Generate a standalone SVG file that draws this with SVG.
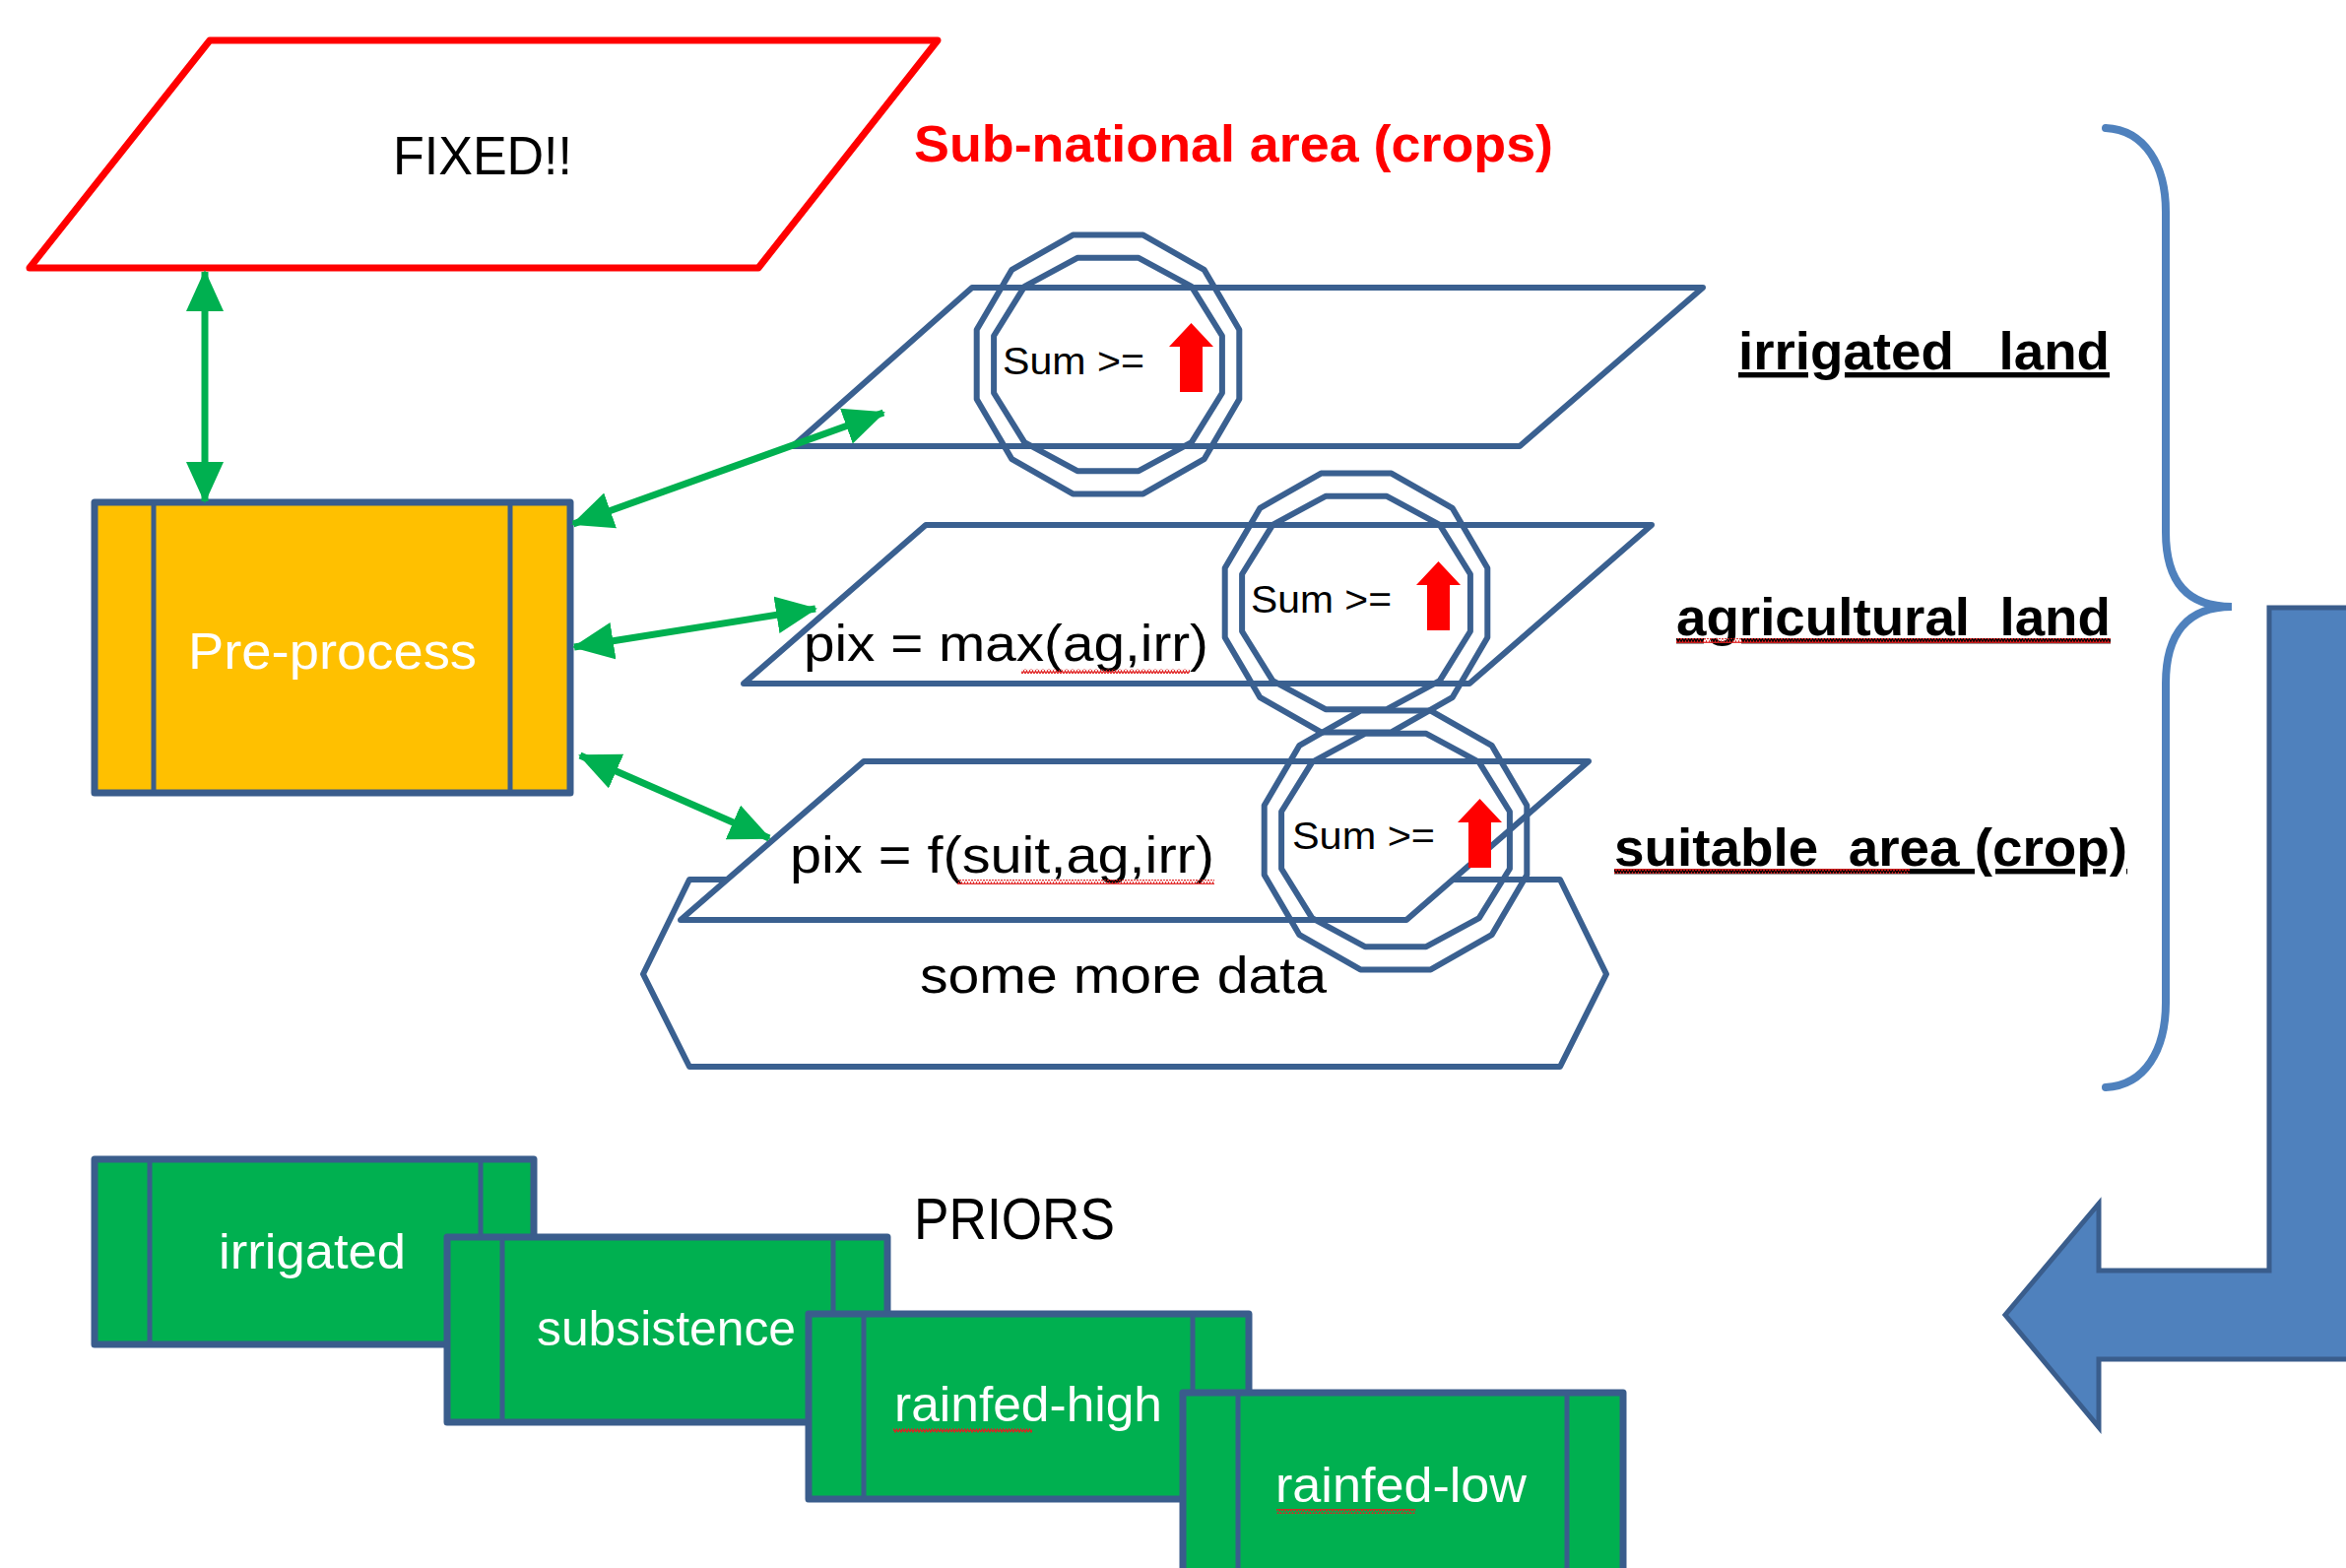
<svg xmlns="http://www.w3.org/2000/svg" width="2382" height="1592" viewBox="0 0 2382 1592">
<style>
.shape{fill:none;stroke:#3A6090;stroke-width:6;stroke-linejoin:round}
.white{fill:#FFFFFF}
.txt{font-family:'Liberation Sans',Arial,sans-serif;fill:#000}
.wt{font-family:'Liberation Sans',Arial,sans-serif;fill:#FFFFFF}
.lbl{font-family:'Liberation Sans',Arial,sans-serif;font-weight:bold;font-size:54px;fill:#000;text-decoration:underline}
.conn{stroke:#00B050;stroke-width:7;fill:none}
.prior{fill:#00B050;stroke:#3A5D8C;stroke-width:7;stroke-linejoin:round}
.inner{stroke:#3A5D8C;stroke-width:5}
.sum{font-family:'Liberation Sans',Arial,sans-serif;font-size:38px;fill:#000}
.redarrow{fill:#FF0000}
.wave{fill:url(#wavy)}
</style>
<defs>
<marker id="ah" markerUnits="userSpaceOnUse" markerWidth="44" markerHeight="40" refX="40" refY="19" orient="auto-start-reverse" viewBox="0 0 44 40">
<path d="M0,0 L42,19 L0,38 Z" fill="#00B050"/>
</marker>
<polygon id="dodecaOuter" points="35.7,-131.4 97.6,-96.2 133.3,-35.2 133.3,35.2 97.6,96.2 35.7,131.4 -35.7,131.4 -97.6,96.2 -133.3,35.2 -133.3,-35.2 -97.6,-96.2 -35.7,-131.4"/>
<polygon id="dodecaInner" points="31.1,-108.2 84.8,-79.2 115.9,-29 115.9,29 84.8,79.2 31.1,108.2 -31.1,108.2 -84.8,79.2 -115.9,29 -115.9,-29 -84.8,-79.2 -31.1,-108.2"/>
<path id="upArrow" d="M0,-35 L22.5,-11 L11.5,-11 L11.5,35 L-11.5,35 L-11.5,-11 L-22.5,-11 Z"/>
<pattern id="wavy" patternUnits="userSpaceOnUse" width="6" height="5">
<path d="M0,4 L1.5,1 L3,4 L4.5,1 L6,4" fill="none" stroke="#E02020" stroke-width="1.2"/>
</pattern>
</defs>

<g id="fixed">
<polygon points="213,41 952,41 770,272 30,272" fill="#FFFFFF" stroke="#FF0000" stroke-width="7" stroke-linejoin="round"/>
<text class="txt" x="399" y="177" font-size="56" textLength="182" lengthAdjust="spacingAndGlyphs">FIXED!!</text>
</g>

<g id="subnational-label">
<text x="928" y="164" font-family="'Liberation Sans',Arial,sans-serif" font-weight="bold" font-size="52" fill="#FF0000" textLength="649" lengthAdjust="spacingAndGlyphs">Sub-national area (crops)</text>
</g>

<g id="preprocess">
<rect x="96" y="510" width="483" height="295" fill="#FFC000" stroke="#3A5D8C" stroke-width="7" stroke-linejoin="round"/>
<line class="inner" x1="156" y1="510" x2="156" y2="805"/>
<line class="inner" x1="518" y1="510" x2="518" y2="805"/>
<text class="wt" x="191" y="679" font-size="52" textLength="293" lengthAdjust="spacingAndGlyphs">Pre-process</text>
</g>

<g id="some-more-data">
<polygon class="shape" points="700,893 1584,893 1631,989 1584,1083 700,1083 653,989"/>
<text class="txt" x="934" y="1008" font-size="52" textLength="413" lengthAdjust="spacingAndGlyphs">some more data</text>
</g>

<g id="layer-suitable">
<polygon class="shape white" points="877,773 1613,773 1428,934 691,934"/>
<text class="txt" x="802" y="886" font-size="52" textLength="431" lengthAdjust="spacingAndGlyphs">pix = f(suit,ag,irr)</text>
<rect class="wave" x="972" y="893" width="261" height="5"/>
</g>

<g id="layer-agricultural">
<polygon class="shape" points="940,533 1677,533 1492,694 755,694"/>
<text class="txt" x="816" y="671" font-size="52" textLength="411" lengthAdjust="spacingAndGlyphs">pix = max(ag,irr)</text>
<rect class="wave" x="1037" y="679" width="171" height="5"/>
</g>

<g id="layer-irrigated">
<polygon class="shape" points="987,292 1729,292 1543,453 805,453"/>
</g>

<g id="sum-irrigated">
<use href="#dodecaOuter" class="shape" transform="translate(1125,370)"/>
<use href="#dodecaInner" class="shape" transform="translate(1125,370)"/>
<text class="sum" x="1018" y="380" textLength="144" lengthAdjust="spacingAndGlyphs">Sum &gt;=</text>
<use href="#upArrow" class="redarrow" transform="translate(1209.5,363)"/>
</g>

<g id="sum-agricultural">
<use href="#dodecaOuter" class="shape" transform="translate(1377,612)"/>
<use href="#dodecaInner" class="shape" transform="translate(1377,612)"/>
<text class="sum" x="1270" y="622" textLength="143" lengthAdjust="spacingAndGlyphs">Sum &gt;=</text>
<use href="#upArrow" class="redarrow" transform="translate(1460.5,605)"/>
</g>

<g id="sum-suitable">
<use href="#dodecaOuter" class="shape" transform="translate(1417,853)"/>
<use href="#dodecaInner" class="shape" transform="translate(1417,853)"/>
<text class="sum" x="1312" y="862" textLength="145" lengthAdjust="spacingAndGlyphs">Sum &gt;=</text>
<use href="#upArrow" class="redarrow" transform="translate(1502.5,846)"/>
</g>

<g id="label-irrigated">
<text class="lbl" x="1765" y="375" textLength="377" lengthAdjust="spacingAndGlyphs">irrigated_ land</text>
</g>
<g id="label-agricultural">
<text class="lbl" x="1702" y="645" textLength="441" lengthAdjust="spacingAndGlyphs">agricultural_land</text>
<rect class="wave" x="1702" y="648" width="441" height="5"/>
</g>
<g id="label-suitable">
<text class="lbl" x="1639" y="879" textLength="521" lengthAdjust="spacingAndGlyphs">suitable_area (crop)</text>
<rect class="wave" x="1639" y="882" width="300" height="5"/>
</g>

<g id="brace">
<path d="M2138,130 C2178,132 2199,168 2199,215 L2199,540 C2199,592 2222,616 2266,616 C2222,616 2199,642 2199,694 L2199,1018 C2199,1066 2178,1102 2138,1104" fill="none" stroke="#4F81BD" stroke-width="8" stroke-linecap="round"/>
</g>

<g id="bent-arrow">
<polygon points="2304,617 2400,617 2400,1380 2131,1380 2131,1449 2036,1335 2131,1222 2131,1290 2304,1290" fill="#4F81BD" stroke="#3A5D8C" stroke-width="5" stroke-linejoin="miter"/>
</g>

<g id="priors-label">
<text class="txt" x="928" y="1258" font-size="60" textLength="204" lengthAdjust="spacingAndGlyphs">PRIORS</text>
</g>

<g id="prior-irrigated">
<rect class="prior" x="96" y="1177" width="446" height="188"/>
<line class="inner" x1="152" y1="1177" x2="152" y2="1365"/>
<line class="inner" x1="488" y1="1177" x2="488" y2="1365"/>
<text class="wt" x="222" y="1288" font-size="50" textLength="190" lengthAdjust="spacingAndGlyphs">irrigated</text>
</g>
<g id="prior-subsistence">
<rect class="prior" x="454" y="1256" width="447" height="188"/>
<line class="inner" x1="510" y1="1256" x2="510" y2="1444"/>
<line class="inner" x1="846" y1="1256" x2="846" y2="1444"/>
<text class="wt" x="545" y="1366" font-size="50" textLength="263" lengthAdjust="spacingAndGlyphs">subsistence</text>
</g>
<g id="prior-rainfed-high">
<rect class="prior" x="821" y="1334" width="447" height="188"/>
<line class="inner" x1="877" y1="1334" x2="877" y2="1522"/>
<line class="inner" x1="1211" y1="1334" x2="1211" y2="1522"/>
<text class="wt" x="908" y="1443" font-size="50" textLength="272" lengthAdjust="spacingAndGlyphs">rainfed-high</text>
<rect class="wave" x="907" y="1450" width="141" height="5"/>
</g>
<g id="prior-rainfed-low">
<rect class="prior" x="1201" y="1414" width="447" height="188"/>
<line class="inner" x1="1257" y1="1414" x2="1257" y2="1602"/>
<line class="inner" x1="1591" y1="1414" x2="1591" y2="1602"/>
<text class="wt" x="1295" y="1525" font-size="50" textLength="255" lengthAdjust="spacingAndGlyphs">rainfed-low</text>
<rect class="wave" x="1296" y="1532" width="141" height="5"/>
</g>

<g id="connectors">
<line class="conn" x1="208" y1="276" x2="208" y2="509" marker-start="url(#ah)" marker-end="url(#ah)"/>
<line class="conn" x1="582" y1="532" x2="897" y2="419" marker-start="url(#ah)" marker-end="url(#ah)"/>
<line class="conn" x1="583" y1="657" x2="828" y2="618" marker-start="url(#ah)" marker-end="url(#ah)"/>
<line class="conn" x1="589" y1="767" x2="781" y2="851" marker-start="url(#ah)" marker-end="url(#ah)"/>
</g>
</svg>
